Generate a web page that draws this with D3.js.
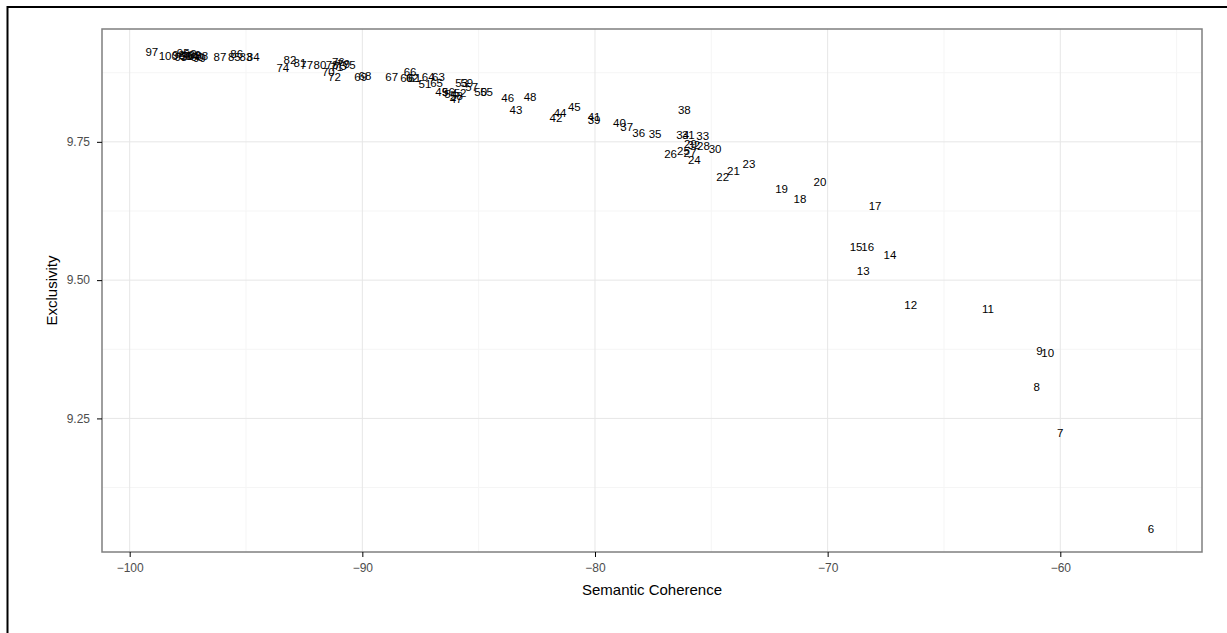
<!DOCTYPE html>
<html>
<head>
<meta charset="utf-8">
<script src="https://cdn.jsdelivr.net/npm/d3@7"></script>
<style>
    body { margin: 0; background: #fff; }
    svg text { font-family: "Liberation Sans", Arial, Helvetica, sans-serif; }
    .tick line { stroke: #000; }
    .tick text { fill: #4d4d4d; font-size: 12px; }
    .domain { display: none; }
</style>
</head>
<body>
<div id="chart"></div>
<script>
// topic numbers shown as text marks
var topics = [6, 7, 8, 9, 10, 11, 12, 13, 14, 15, 16, 17, 18, 19, 20,
    21, 22, 23, 24, 25, 26, 27, 28, 29, 30, 31, 32, 33, 34, 35, 36, 37, 38, 39, 40,
    41, 42, 43, 44, 45, 46, 47, 48, 49, 50, 51, 52, 53, 54, 55, 56, 57, 58, 59, 60,
    61, 62, 63, 64, 65, 66, 67, 68, 69, 70, 71, 72, 73, 74, 75, 76, 77, 78, 79, 80,
    81, 82, 83, 84, 85, 86, 87, 88, 89, 90, 91, 92, 93, 94, 95, 96, 97, 98, 99, 100];

var coherence = [-56.10, -60.01, -61.02, -60.90, -60.54, -63.11, -66.43, -68.47, -67.32, -68.78,
    -68.28, -67.96, -71.19, -71.98, -70.33,
    -74.05, -74.51, -73.38, -75.73, -76.20, -76.75, -75.92, -75.34, -75.90, -74.84,
    -75.99, -75.75, -75.37, -76.23, -77.42, -78.12, -78.64, -76.16, -80.04, -78.95,
    -80.04, -81.68, -83.40, -81.50, -80.89, -83.75, -85.97, -82.79, -86.59, -84.91,
    -87.31, -85.80, -85.73, -86.20, -84.66, -86.30, -85.30, -85.95, -85.51, -88.10,
    -87.75, -87.85, -86.73, -87.17, -86.81, -87.95, -88.74, -89.89, -90.07, -91.46,
    -91.10, -91.20, -90.95, -93.42, -90.56, -91.03, -92.39, -91.30, -90.80, -91.82,
    -92.68, -93.11, -95.00, -94.69, -95.50, -95.40, -96.12, -96.90, -97.20, -97.10,
    -97.60, -97.40, -97.80, -97.30, -97.70, -97.50, -99.05, -97.90, -97.00, -98.34];

var exclusivity = [9.050, 9.224, 9.307, 9.372, 9.369, 9.448, 9.455, 9.517, 9.546, 9.561,
    9.561, 9.635, 9.647, 9.665, 9.678,
    9.698, 9.687, 9.711, 9.717, 9.734, 9.728, 9.730, 9.742, 9.746, 9.737,
    9.763, 9.745, 9.761, 9.763, 9.764, 9.766, 9.777, 9.808, 9.789, 9.784,
    9.796, 9.793, 9.807, 9.803, 9.814, 9.830, 9.827, 9.832, 9.841, 9.840,
    9.854, 9.838, 9.857, 9.836, 9.841, 9.840, 9.850, 9.834, 9.857, 9.865,
    9.866, 9.865, 9.868, 9.867, 9.856, 9.877, 9.868, 9.869, 9.868, 9.877,
    9.886, 9.867, 9.888, 9.884, 9.889, 9.894, 9.890, 9.890, 9.891, 9.890,
    9.893, 9.898, 9.904, 9.904, 9.904, 9.909, 9.904, 9.905, 9.908, 9.904,
    9.906, 9.909, 9.904, 9.905, 9.910, 9.906, 9.912, 9.907, 9.902, 9.906];

var xTicks = [-100, -90, -80, -70, -60],
    xMinor = [-95, -85, -75, -65, -55],
    yTicks = [9.25, 9.50, 9.75],
    yMinor = [9.125, 9.375, 9.625, 9.875];

var W = 1227, H = 633;
var margin = { top: 29, right: 25, bottom: 81, left: 102 },
    width = W - margin.left - margin.right,
    height = H - margin.top - margin.bottom;

var data = topics.map(function(t, i) {
    return { topic: t, x: coherence[i], y: exclusivity[i] };
});

var root = d3.select("#chart").append("svg")
    .attr("width", W)
    .attr("height", H);

// outer frame
root.append("rect")
    .attr("x", 7.5).attr("y", 7)
    .attr("width", 1240).attr("height", 660)
    .style("fill", "none")
    .style("stroke", "#000")
    .style("stroke-width", 2);

var svg = root.append("g")
    .attr("transform", "translate(" + margin.left + "," + margin.top + ")");

var x = d3.scaleLinear()
    .domain([-101.19, -53.91])
    .range([0, width]);

var y = d3.scaleLinear()
    .domain([9.0085, 9.954])
    .range([height, 0]);

// grid
svg.selectAll(".vminor").data(xMinor).enter().append("line")
    .attr("x1", function(d) { return x(d); }).attr("x2", function(d) { return x(d); })
    .attr("y1", 0).attr("y2", height)
    .style("stroke", "#f5f5f5");
svg.selectAll(".hminor").data(yMinor).enter().append("line")
    .attr("x1", 0).attr("x2", width)
    .attr("y1", function(d) { return y(d); }).attr("y2", function(d) { return y(d); })
    .style("stroke", "#f5f5f5");
svg.selectAll(".vmajor").data(xTicks).enter().append("line")
    .attr("x1", function(d) { return x(d); }).attr("x2", function(d) { return x(d); })
    .attr("y1", 0).attr("y2", height)
    .style("stroke", "#e6e6e6");
svg.selectAll(".hmajor").data(yTicks).enter().append("line")
    .attr("x1", 0).attr("x2", width)
    .attr("y1", function(d) { return y(d); }).attr("y2", function(d) { return y(d); })
    .style("stroke", "#e6e6e6");

// topic labels
svg.selectAll(".topic")
    .data(data)
    .enter()
    .append("text")
    .attr("class", "topic")
    .attr("x", function(d) { return x(d.x); })
    .attr("y", function(d) { return y(d.y); })
    .attr("dy", "0.36em")
    .attr("text-anchor", "middle")
    .style("font-size", "11.5px")
    .style("fill", "#000")
    .text(function(d) { return d.topic; });

// panel border
svg.append("rect")
    .attr("width", width)
    .attr("height", height)
    .style("fill", "none")
    .style("stroke", "#7f7f7f")
    .style("stroke-width", 1.5);

// axes
svg.append("g")
    .attr("transform", "translate(0," + height + ")")
    .call(d3.axisBottom(x).tickValues(xTicks).tickSize(5).tickPadding(6)
        .tickFormat(d3.format("d")));

svg.append("g")
    .call(d3.axisLeft(y).tickValues(yTicks).tickSize(5).tickPadding(7)
        .tickFormat(d3.format(".2f")));

svg.append("text")
    .attr("x", width / 2)
    .attr("y", height + 43)
    .attr("text-anchor", "middle")
    .style("font-size", "15px")
    .text("Semantic Coherence");

svg.append("text")
    .attr("transform", "translate(-45," + (height / 2) + ") rotate(-90)")
    .attr("text-anchor", "middle")
    .style("font-size", "15px")
    .text("Exclusivity");
</script>
</body>
</html>
